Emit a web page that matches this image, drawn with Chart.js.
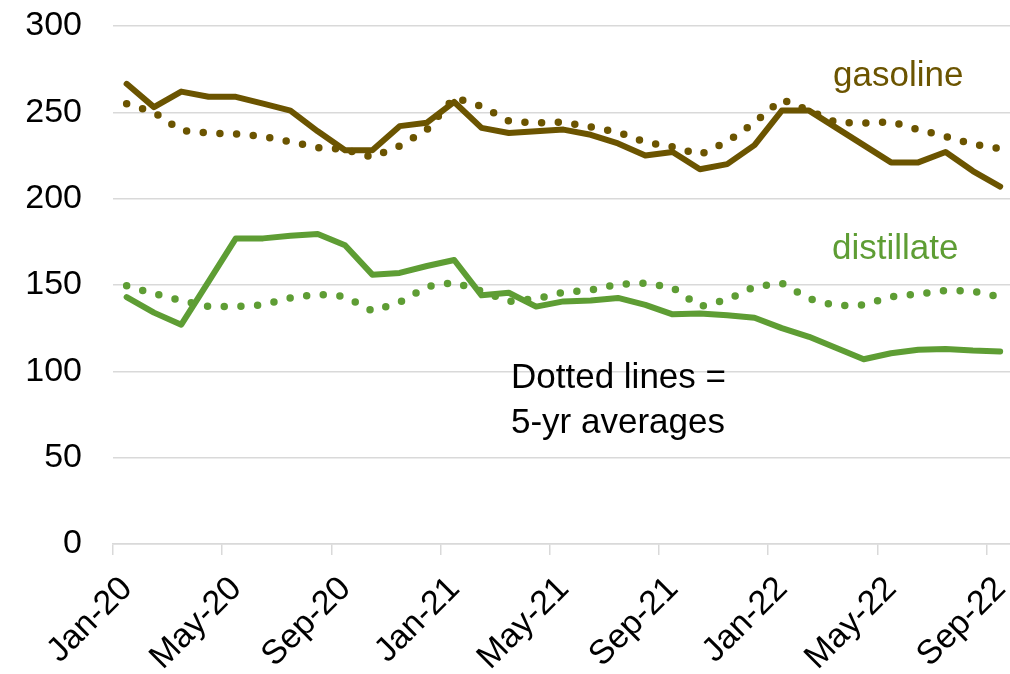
<!DOCTYPE html>
<html>
<head>
<meta charset="utf-8">
<script src="https://cdn.jsdelivr.net/npm/chart.js@4/dist/chart.umd.min.js"></script>
<style>
  body { margin: 0; background: #fff; }
  #caja { position: relative; width: 1010px; height: 674px; }
  .nota { position: absolute; font-family: "Liberation Sans", Arial, sans-serif; font-size: 35px; line-height: 35px; white-space: nowrap; }
</style>
</head>
<body>
<div id="caja">
  <canvas id="plot1" width="1010" height="674"></canvas>
  <div class="nota" style="left:833px; top:56px; color:#6b5400;">gasoline</div>
  <div class="nota" style="left:832px; top:229px; color:#5e9d34;">distillate</div>
  <div class="nota" style="left:511px; top:353px; line-height:45px; color:#000;">Dotted lines =<br>5-yr averages</div>
</div>
<script>
// meses Jan-20 ... Sep-22, una etiqueta cada 4 meses
let etiquetasX = ["Jan-20", "May-20", "Sep-20", "Jan-21", "May-21", "Sep-21", "Jan-22", "May-22", "Sep-22"];
let ticksY = [0, 50, 100, 150, 200, 250, 300];

let gasolina = [266.5, 253, 262, 259, 259, 255, 251, 239, 228, 228, 242, 244, 256, 241, 238, 239,
                240, 237, 232, 225, 227, 217, 220, 231, 251, 251, 241, 231, 221, 221, 227, 216, 207];
let gasolinaProm = [255, 250, 239.5, 238, 237.5, 236, 233, 229.5, 228.5, 224, 230.5, 240, 258.5, 253.5, 245, 243.8,
                    244.3, 241.5, 238.5, 232.7, 230, 225.5, 233, 244, 257.5, 251, 244, 243.8, 244.5, 240, 236, 231.5, 229];
let destilado = [143, 134, 127, 152, 177, 177, 178.5, 179.5, 173, 156, 157, 161, 164.5, 144, 145.5, 137.5,
                 140.5, 141, 142.5, 138.5, 133, 133.5, 132.5, 131, 125, 120, 113.5, 107, 110.5, 112.5, 113, 112, 111.5];
let destiladoProm = [149.5, 145, 141, 137.5, 137.5, 138.5, 142.5, 144.7, 143.3, 135, 140, 149, 151.5, 146.5, 140.5, 142,
                     145.8, 147, 150.5, 151, 148.5, 137.5, 141.5, 149, 151, 142, 138, 138.5, 143.2, 144.8, 146.8, 146.5, 143];

let colorGasolina = "#6b5400";
let colorDestilado = "#5e9d34";

// cada mes ocupa una unidad del eje x, el punto va en el centro del mes
let aPuntos = (arr) => arr.map((v, i) => ({ x: i + 0.5, y: v }));

let serie = (datos, color, punteada) => ({
    data: aPuntos(datos),
    borderColor: color,
    borderWidth: punteada ? 7.5 : 6,
    borderDash: punteada ? [0, 16.7] : [],
    borderCapStyle: "round",
    borderJoinStyle: "round",
    pointRadius: 0,
    tension: 0,
    fill: false
});

let fuente = { family: "'Liberation Sans', Arial, sans-serif", size: 34 };

// sin relleno extra de los ejes, el area del grafico queda fija
let sinRelleno = (eje) => {
    eje.paddingTop = 0;
    eje.paddingBottom = 0;
    eje.paddingLeft = 0;
    eje.paddingRight = 0;
};

let config1 = {
    type: "line",
    data: {
        datasets: [
            serie(gasolinaProm, colorGasolina, true),
            serie(destiladoProm, colorDestilado, true),
            serie(gasolina, colorGasolina, false),
            serie(destilado, colorDestilado, false)
        ]
    },
    options: {
        responsive: false,
        animation: false,
        layout: { padding: { top: 26, right: 0, left: 0, bottom: 0 } },
        plugins: { legend: { display: false }, tooltip: { enabled: false } },
        scales: {
            x: {
                type: "linear",
                min: 0,
                max: 32.86,
                afterBuildTicks: (eje) => { eje.ticks = etiquetasX.map((e, i) => ({ value: i * 4 })); },
                afterFit: (eje) => { eje.height = 130; sinRelleno(eje); },
                border: { color: "#d9d9d9", width: 1.5 },
                grid: { drawOnChartArea: false, drawTicks: true, tickLength: 11, color: "#d9d9d9", lineWidth: 1.5 },
                ticks: {
                    autoSkip: false,
                    maxRotation: 45,
                    minRotation: 45,
                    padding: 14,
                    labelOffset: 14,
                    color: "#000",
                    font: fuente,
                    callback: (valor) => etiquetasX[valor / 4]
                }
            },
            y: {
                min: 0,
                max: 300,
                afterBuildTicks: (eje) => { eje.ticks = ticksY.map(v => ({ value: v })); },
                afterFit: (eje) => { eje.width = 113; sinRelleno(eje); },
                border: { display: false },
                grid: { drawTicks: false, color: "#d9d9d9", lineWidth: 1.5 },
                ticks: { padding: 31, color: "#000", font: fuente }
            }
        }
    }
};

let chart1 = new Chart(document.getElementById("plot1"), config1);
</script>
</body>
</html>
